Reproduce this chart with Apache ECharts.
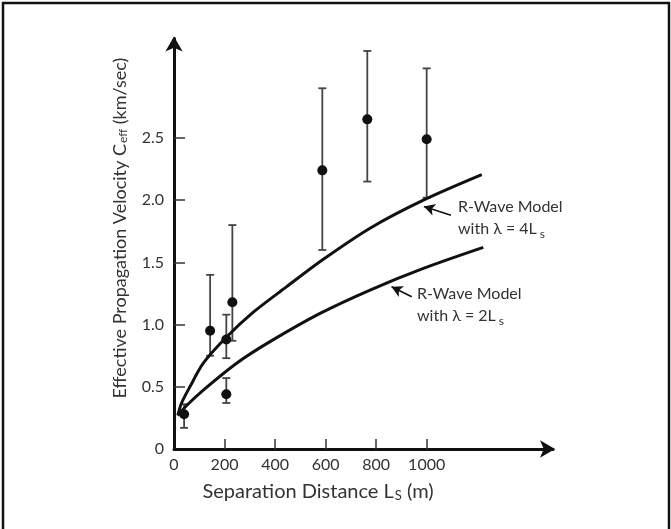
<!DOCTYPE html>
<html>
<head>
<meta charset="utf-8">
<script src="https://cdn.jsdelivr.net/npm/echarts@6/dist/echarts.min.js"></script>
<style>
  html, body { margin: 0; padding: 0; background: #fff; }
  #chart { width: 671px; height: 529px; }
</style>
</head>
<body>
<div id="chart"></div>
<script>
// measured points: separation distance (m), velocity (km/sec), error bar low / high
const obsDist = [40, 143, 207, 231, 207, 587, 765, 1000];
const obsVel  = [0.28, 0.95, 0.88, 1.18, 0.44, 2.24, 2.65, 2.49];
const obsLow  = [0.17, 0.75, 0.73, 0.87, 0.37, 1.60, 2.15, 2.02];
const obsHigh = [0.36, 1.40, 1.08, 1.80, 0.57, 2.90, 3.20, 3.06];

// R-wave model curves
const model4Dist = [15, 30, 63, 116, 208, 314, 446, 591, 776, 987, 1218];
const model4Vel  = [0.27, 0.37, 0.50, 0.69, 0.90, 1.10, 1.305, 1.525, 1.775, 2.0, 2.205];
const model2Dist = [15, 50, 116, 248, 380, 578, 776, 987, 1224];
const model2Vel  = [0.27, 0.35, 0.474, 0.69, 0.863, 1.09, 1.278, 1.452, 1.621];

// axis ticks
const xTicks = [0, 200, 400, 600, 800, 1000];
const yTicks = [0, 0.5, 1.0, 1.5, 2.0, 2.5];

// annotation arrows [tail, tip] in data units
const arrow4 = [[1096, 1.88], [989, 1.95]];
const arrow2 = [[941, 1.224], [861, 1.305]];

const FONT = 'Lato';
const INK = '#111';
const TXT = '#333';

const chart = echarts.init(document.getElementById('chart'), null, { renderer: 'canvas' });

function pairs(xs, ys) {
  return xs.map((x, i) => [x, ys[i]]);
}

function arrowLine(a) {
  return [[{ coord: a[0] }, { coord: a[1] }]];
}

const option = {
  animation: false,
  backgroundColor: '#fff',
  grid: { left: 174, right: 118, top: 38.5, bottom: 80 },
  xAxis: {
    type: 'value',
    min: 0,
    max: 1500,
    splitLine: { show: false },
    axisLine: {
      lineStyle: { color: INK, width: 3 },
      symbol: ['none', 'arrow'],
      symbolSize: [13, 15],
      symbolOffset: [0, 2]
    },
    axisTick: {
      inside: true, length: 10,
      customValues: xTicks.slice(1),
      lineStyle: { color: '#333', width: 1.5 }
    },
    axisLabel: {
      customValues: xTicks,
      margin: 8,
      color: TXT, fontFamily: FONT, fontSize: 16,
      formatter: v => String(v)
    }
  },
  yAxis: {
    type: 'value',
    min: 0,
    max: 3.3,
    splitLine: { show: false },
    axisLine: {
      lineStyle: { color: INK, width: 3 },
      symbol: ['none', 'arrow'],
      symbolSize: [13, 15],
      symbolOffset: [0, 2]
    },
    axisTick: {
      inside: true, length: 11,
      customValues: yTicks.slice(1),
      lineStyle: { color: '#333', width: 1.5 }
    },
    axisLabel: {
      customValues: yTicks,
      margin: 10,
      color: TXT, fontFamily: FONT, fontSize: 16,
      formatter: v => v === 0 ? '0' : v.toFixed(1)
    }
  },
  series: [
    {
      name: 'R-Wave Model λ = 4Ls',
      type: 'line',
      data: pairs(model4Dist, model4Vel),
      smooth: 0.3,
      showSymbol: false,
      lineStyle: { color: INK, width: 3 },
      markLine: {
        silent: true,
        symbol: ['none', 'arrow'],
        symbolSize: [9, 11],
        label: { show: false },
        lineStyle: { color: INK, width: 1.6, type: 'solid' },
        data: arrowLine(arrow4)
      }
    },
    {
      name: 'R-Wave Model λ = 2Ls',
      type: 'line',
      data: pairs(model2Dist, model2Vel),
      smooth: 0.3,
      showSymbol: false,
      lineStyle: { color: INK, width: 3 },
      markLine: {
        silent: true,
        symbol: ['none', 'arrow'],
        symbolSize: [9, 11],
        label: { show: false },
        lineStyle: { color: INK, width: 1.6, type: 'solid' },
        data: arrowLine(arrow2)
      }
    },
    {
      name: 'error',
      type: 'custom',
      data: obsDist.map((x, i) => [x, obsLow[i], obsHigh[i]]),
      renderItem: function (params, api) {
        const lo = api.coord([api.value(0), api.value(1)]);
        const hi = api.coord([api.value(0), api.value(2)]);
        const w = 4;
        const style = { stroke: '#444', lineWidth: 1.8 };
        return {
          type: 'group',
          children: [
            { type: 'line', shape: { x1: hi[0], y1: hi[1], x2: lo[0], y2: lo[1] }, style },
            { type: 'line', shape: { x1: hi[0] - w, y1: hi[1], x2: hi[0] + w, y2: hi[1] }, style },
            { type: 'line', shape: { x1: lo[0] - w, y1: lo[1], x2: lo[0] + w, y2: lo[1] }, style }
          ]
        };
      },
      z: 3
    },
    {
      name: 'measured',
      type: 'scatter',
      data: pairs(obsDist, obsVel),
      symbol: 'circle',
      symbolSize: 10,
      itemStyle: { color: INK, opacity: 1 },
      z: 4
    }
  ],
  graphic: [
    // frame
    {
      type: 'polyline',
      shape: { points: [[3, 540], [3, 3], [669, 3], [669, 540]] },
      style: { stroke: '#111', lineWidth: 2.5, fill: null },
      silent: true
    },
    {
      type: 'text',
      x: 318, y: 492,
      style: {
        text: '{a|Separation Distance L}{s|S}{a| (m)}',
        align: 'center', verticalAlign: 'middle',
        rich: {
          a: { fontFamily: FONT, fontSize: 20, fill: TXT },
          s: { fontFamily: FONT, fontSize: 13, fill: TXT, verticalAlign: 'bottom', padding: [6, 0, 0, 1] }
        }
      }
    },
    {
      type: 'text',
      x: 120, y: 228,
      rotation: Math.PI / 2,
      style: {
        text: '{a|Effective Propagation Velocity C}{s|eff}{a| (km/sec)}',
        align: 'center', verticalAlign: 'middle',
        rich: {
          a: { fontFamily: FONT, fontSize: 18, fill: TXT },
          s: { fontFamily: FONT, fontSize: 12, fill: TXT, verticalAlign: 'bottom', padding: [6, 0, 0, 1] }
        }
      }
    },
    {
      type: 'text',
      x: 458, y: 196,
      style: {
        text: '{a|R-Wave Model}\n{a|with λ = 4L}{s| s}',
        rich: {
          a: { fontFamily: FONT, fontSize: 16, fill: TXT, lineHeight: 22 },
          s: { fontFamily: FONT, fontSize: 12, fill: TXT, lineHeight: 22, verticalAlign: 'bottom', padding: [4, 0, 0, 0] }
        }
      }
    },
    {
      type: 'text',
      x: 417, y: 283,
      style: {
        text: '{a|R-Wave Model}\n{a|with λ = 2L}{s| s}',
        rich: {
          a: { fontFamily: FONT, fontSize: 16, fill: TXT, lineHeight: 22 },
          s: { fontFamily: FONT, fontSize: 12, fill: TXT, lineHeight: 22, verticalAlign: 'bottom', padding: [4, 0, 0, 0] }
        }
      }
    }
  ]
};

chart.setOption(option);
</script>
</body>
</html>
